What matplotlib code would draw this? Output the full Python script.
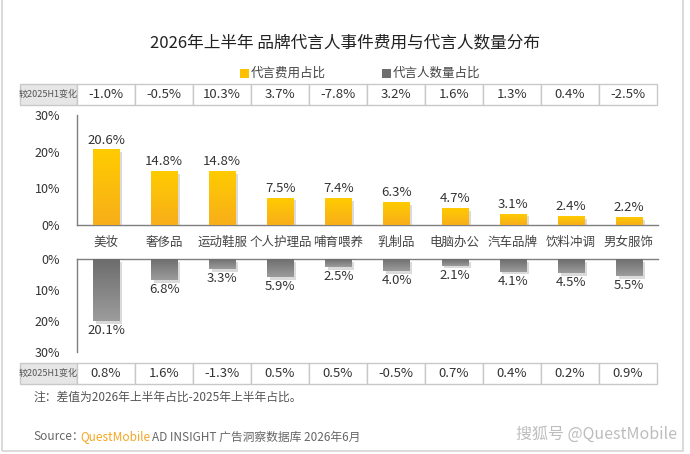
import numpy as np
import matplotlib.pyplot as plt
import matplotlib.patheffects as pe
import matplotlib.transforms as mtrans
from matplotlib.colors import LinearSegmentedColormap
from matplotlib.patches import Rectangle

plt.rcParams['font.family'] = ['Noto Sans CJK SC', 'DejaVu Sans']

W, H = 690, 454

categories = ['美妆', '奢侈品', '运动鞋服', '个人护理品', '哺育喂养', '乳制品', '电脑办公', '汽车品牌', '饮料冲调', '男女服饰']
fee_share = [20.6, 14.8, 14.8, 7.5, 7.4, 6.3, 4.7, 3.1, 2.4, 2.2]
fee_change = [-1.0, -0.5, 10.3, 3.7, -7.8, 3.2, 1.6, 1.3, 0.4, -2.5]
count_share = [20.1, 6.8, 3.3, 5.9, 2.5, 4.0, 2.1, 4.1, 4.5, 5.5]
count_change = [0.8, 1.6, -1.3, 0.5, 0.5, -0.5, 0.7, 0.4, 0.2, 0.9]
y_ticks = [0, 10, 20, 30]

text_col = '#333333'
axis_col = '#7f7f7f'
grid_col = '#c8c8c8'

yellow_map = LinearSegmentedColormap.from_list('yel', ['#f8ae1a', '#ffcc00'])
gray_map = LinearSegmentedColormap.from_list('gry', ['#9c9c9c', '#6c6c6c'])


def rect(x0, y0, x1, y1):
    # pixel box (top-left origin) -> figure fraction
    return [x0 / W, 1 - y1 / H, (x1 - x0) / W, (y1 - y0) / H]


def fx(x):
    return x / W


def fy(y):
    return 1 - y / H


def gradient_bars(ax, values, cmap, inverted=False):
    n = len(values)
    bars = ax.bar(range(n), values, width=0.45, color='none', edgecolor='none', zorder=3)
    grad = np.linspace(0, 1, 100).reshape(-1, 1)
    if inverted:
        grad = grad[::-1]
    for b in bars:
        b.set_facecolor('white')
        b.set_path_effects([pe.SimplePatchShadow(offset=(2, -2), shadow_rgbFace='#999999', alpha=0.35),
                            pe.Normal()])
        x0 = b.get_x()
        x1 = x0 + b.get_width()
        h = b.get_height()
        im = ax.imshow(grad, cmap=cmap, aspect='auto', origin='lower',
                       extent=[x0, x1, 0, h], zorder=4)
        im.set_clip_path(b)
    ax.set_xlim(-0.5, n - 0.5)
    return bars


def style_axis(ax, side):
    for s in ax.spines.values():
        s.set_visible(False)
    ax.spines['left'].set_visible(True)
    ax.spines[side].set_visible(True)
    for s in ('left', side):
        ax.spines[s].set_color(axis_col)
        ax.spines[s].set_linewidth(1.0)
    ax.set_xticks([])
    ax.set_yticks(y_ticks)
    ax.set_yticklabels([f'{t}%' for t in y_ticks], fontsize=9, color=text_col)
    ax.tick_params(axis='y', length=0, pad=12)
    ax.patch.set_alpha(0)


def change_table(y0, y1, values):
    x_left, x_head, x_right = 20, 77, 657
    fig.patches.append(Rectangle((fx(x_left), fy(y1)), fx(x_head) - fx(x_left), fy(y0) - fy(y1),
                                 transform=fig.transFigure, facecolor='#e6e6e6',
                                 edgecolor=grid_col, lw=1))
    fig.text(fx((x_left + x_head) / 2), fy((y0 + y1) / 2), '较2025H1变化', fontsize=6.5,
             color='#555555', ha='center', va='center')
    cw = (x_right - x_head) / len(values)
    for i, v in enumerate(values):
        xs = x_head + i * cw
        fig.patches.append(Rectangle((fx(xs), fy(y1)), cw / W, fy(y0) - fy(y1),
                                     transform=fig.transFigure, facecolor='white',
                                     edgecolor=grid_col, lw=1))
        fig.text(fx(xs + cw / 2), fy((y0 + y1) / 2), f'{v:.1f}%', fontsize=9.5,
                 color=text_col, ha='center', va='center')


fig = plt.figure(figsize=(W / 100, H / 100), dpi=100)
fig.patch.set_facecolor('white')

# outer frame
fig.patches.append(Rectangle((fx(2), fy(451)), fx(683) - fx(2), fy(-5) - fy(451),
                             transform=fig.transFigure, facecolor='none',
                             edgecolor='#d4d4d4', lw=1.2))

fig.text(0.5, fy(43), '2026年上半年 品牌代言人事件费用与代言人数量分布', fontsize=12,
         color='#222222', ha='center', va='center', fontweight='medium')

# legend
fig.patches.append(Rectangle((fx(240), fy(78)), 9 / W, 9 / H, transform=fig.transFigure,
                             facecolor='#ffc000', edgecolor='none'))
fig.text(fx(251), fy(73.5), '代言费用占比', fontsize=9, color='#444444', va='center')
fig.patches.append(Rectangle((fx(382), fy(78)), 9 / W, 9 / H, transform=fig.transFigure,
                             facecolor='#6e6e6e', edgecolor='none'))
fig.text(fx(393), fy(73.5), '代言人数量占比', fontsize=9, color='#444444', va='center')

change_table(84, 105, fee_change)
change_table(363, 384, count_change)

# upper chart: spend share
ax_top = fig.add_axes(rect(77, 115, 658, 225))
gradient_bars(ax_top, fee_share, yellow_map)
ax_top.set_ylim(0, 30)
style_axis(ax_top, 'bottom')
for i, v in enumerate(fee_share):
    ax_top.text(i, v + 0.8, f'{v:.1f}%', ha='center', va='bottom', fontsize=9.5, color=text_col, zorder=5)

# lower chart: spokesperson count share
ax_bot = fig.add_axes(rect(77, 259, 658, 352))
gradient_bars(ax_bot, count_share, gray_map, inverted=True)
ax_bot.set_ylim(30, 0)
style_axis(ax_bot, 'top')
for i, v in enumerate(count_share):
    ax_bot.text(i, v + 1.0, f'{v:.1f}%', ha='center', va='top', fontsize=9.5, color=text_col, zorder=5)

# category names between the two charts
tr = mtrans.blended_transform_factory(ax_top.transData, fig.transFigure)
for i, c in enumerate(categories):
    fig.text(i, fy(242), c, transform=tr, ha='center', va='center', fontsize=9, color='#444444')

fig.text(fx(33), fy(397), '注：差值为2026年上半年占比-2025年上半年占比。', fontsize=8.5,
         color='#555555', va='center')

fig.text(fx(33), fy(437), 'Source：', fontsize=8.5, color='#666666', va='center')
fig.text(fx(80), fy(437), 'QuestMobile', fontsize=8.5, color='#f5a623', va='center')
fig.text(fx(152), fy(437), 'AD INSIGHT 广告洞察数据库 2026年6月', fontsize=8.5,
         color='#666666', va='center')

fig.text(fx(677), fy(434), '搜狐号 @QuestMobile', fontsize=11.5, color='#bdbdbd',
         ha='right', va='center', fontstyle='italic')

fig.savefig('out.png', dpi=100, facecolor='white')
